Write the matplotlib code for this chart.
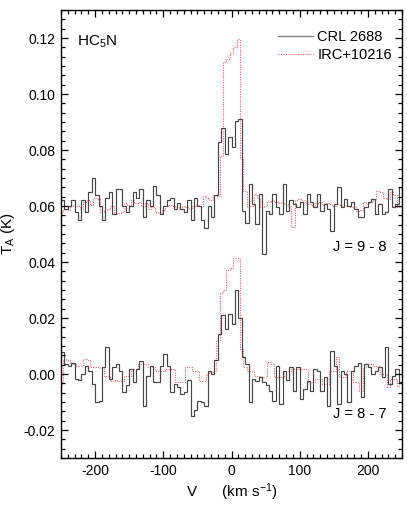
import numpy as np
import matplotlib
matplotlib.use("Agg")
import matplotlib.pyplot as plt
from matplotlib.ticker import AutoMinorLocator

plt.rcParams['font.family'] = ['Liberation Sans', 'DejaVu Sans']
plt.rcParams['mathtext.fontset'] = 'custom'
plt.rcParams['mathtext.rm'] = 'Liberation Sans'
plt.rcParams['mathtext.it'] = 'Liberation Sans'

# ---------------- data ----------------
v_start = -250.0          # km/s, left edge of first CRL 2688 channel
v_start_irc = -252.5      # km/s, left edge of first IRC+10216 channel
chan_width = 5.0          # km/s

# J = 9 - 8 (displayed with +0.06 K offset)
crl_98 = [0.062, 0.059, 0.060, 0.062, 0.058, 0.055, 0.062, 0.058, 0.065, 0.070,
          0.064, 0.060, 0.055, 0.063, 0.065, 0.057, 0.066, 0.066, 0.060, 0.058,
          0.060, 0.065, 0.063, 0.066, 0.056, 0.062, 0.060, 0.067, 0.064, 0.057,
          0.060, 0.062, 0.063, 0.059, 0.061, 0.059, 0.058, 0.062, 0.055, 0.063,
          0.060, 0.055, 0.052, 0.060, 0.056, 0.064, 0.0827, 0.088, 0.0786, 0.0845,
          0.081, 0.0905, 0.091, 0.0583, 0.054, 0.068, 0.0607, 0.0536, 0.0643, 0.043,
          0.0583, 0.057, 0.0643, 0.0595, 0.057, 0.068, 0.0583, 0.062, 0.0607, 0.0595,
          0.0613, 0.057, 0.0643, 0.0613, 0.0595, 0.0643, 0.0583, 0.0607, 0.059, 0.0512,
          0.0607, 0.0667, 0.0595, 0.0625, 0.0601, 0.0613, 0.059, 0.056, 0.056, 0.0595,
          0.0613, 0.0625, 0.057, 0.0607, 0.057, 0.0577, 0.066, 0.0595, 0.0607, 0.0667]

irc_98 = [0.058, 0.059, 0.0585, 0.060, 0.0605, 0.060, 0.059, 0.0615, 0.062, 0.0605,
          0.063, 0.0625, 0.058, 0.0585, 0.059, 0.060, 0.057, 0.0575, 0.058, 0.061,
          0.0605, 0.062, 0.061, 0.0615, 0.060, 0.061, 0.059, 0.0595, 0.058, 0.0575,
          0.0585, 0.060, 0.0605, 0.060, 0.0595, 0.059, 0.060, 0.0595, 0.059, 0.060,
          0.0605, 0.060, 0.0635, 0.063, 0.062, 0.064, 0.0635, 0.078, 0.1115, 0.1125,
          0.1145, 0.1167, 0.1195, 0.077, 0.0655, 0.0595, 0.060, 0.0643, 0.063, 0.0595,
          0.060, 0.0613, 0.062, 0.0613, 0.061, 0.0613, 0.0607, 0.060, 0.0524, 0.062,
          0.0625, 0.062, 0.0615, 0.0607, 0.060, 0.061, 0.0613, 0.0605, 0.061, 0.0607,
          0.060, 0.0607, 0.0605, 0.060, 0.0601, 0.0595, 0.060, 0.0583, 0.0585, 0.0613,
          0.061, 0.0613, 0.062, 0.0655, 0.065, 0.063, 0.0625, 0.0649, 0.064, 0.0595]

# J = 8 - 7
crl_87 = [0.008, 0.0036, 0.003, 0.004, -0.0018, -0.002, 0.000, 0.003, 0.001, -0.0036,
          -0.010, -0.0095, 0.0024, 0.0095, -0.0018, 0.0024, 0.0036, 0.001, -0.0065, -0.004,
          0.0018, -0.003, 0.0018, 0.0048, -0.0113, -0.0006, 0.003, -0.003, -0.003, 0.003,
          0.0071, 0.003, -0.0065, -0.0036, -0.0048, -0.007, -0.0065, -0.002, -0.0149, -0.013,
          -0.0095, -0.010, -0.0113, 0.001, 0.000, 0.005, 0.0143, 0.021, 0.016, 0.0214,
          0.018, 0.030, 0.020, 0.006, 0.0036, -0.010, -0.0018, -0.0024, -0.0012, -0.003,
          -0.004, -0.006, -0.0095, 0.003, -0.0107, 0.001, -0.002, 0.0024, -0.006, 0.0024,
          -0.009, -0.0054, -0.0024, -0.006, 0.0018, 0.0012, -0.006, -0.0012, -0.0113, 0.0083,
          0.003, -0.0107, 0.0012, 0.000, -0.010, 0.0012, 0.003, 0.004, -0.0083, 0.0036,
          0.0024, 0.000, 0.0012, 0.0024, -0.0012, 0.0095, -0.0036, -0.0006, 0.0018, -0.003]

irc_87 = [-0.0036, 0.0054, 0.005, 0.0036, 0.0036, 0.003, 0.0028, 0.0054, 0.005, 0.0024,
          0.0024, 0.0024, 0.002, -0.0006, -0.0006, -0.0024, -0.002, -0.0024, -0.0024, -0.0006,
          -0.0006, 0.0018, 0.0018, 0.0036, 0.0036, 0.0036, 0.0024, 0.0024, 0.0012, 0.0012,
          0.0012, 0.0018, 0.0018, 0.0018, -0.003, -0.003, -0.003, 0.0024, 0.0024, 0.0012,
          0.0012, -0.0024, -0.0024, 0.000, 0.0006, 0.001, 0.012, 0.029, 0.030, 0.037,
          0.038, 0.0415, 0.0415, 0.009, 0.0024, 0.0012, 0.0012, -0.0006, -0.0006, -0.0012,
          -0.0012, 0.0042, 0.0036, -0.0012, -0.0012, -0.0012, 0.0012, 0.0012, 0.0018, 0.0018,
          0.0018, 0.0018, 0.0018, -0.003, -0.003, -0.0018, -0.0018, -0.0036, -0.0036, 0.0012,
          0.0012, 0.006, -0.0012, -0.0012, 0.0012, 0.0012, -0.003, -0.003, -0.006, 0.0024,
          0.0036, 0.0036, 0.003, 0.003, 0.000, 0.000, -0.0048, -0.0018, -0.0018, -0.0042]

x_ticks = [-200, -100, 0, 100, 200]
y_ticks = [-0.02, 0.00, 0.02, 0.04, 0.06, 0.08, 0.10, 0.12]

# ---------------- plot ----------------
fig = plt.figure(figsize=(4.07, 5.09), dpi=100)
ax = fig.add_axes([61/407, 1-458/509, (402-61)/407, (458-10)/509])

edges_crl = v_start + chan_width*np.arange(len(crl_98)+1)
edges_irc = v_start_irc + chan_width*np.arange(len(irc_98)+1)

black = '#454545'
red = '#ff6060'
dots = (0, (1, 1.2))

ax.stairs(irc_98, edges_irc, baseline=None, color=red, lw=0.8, ls=dots)
ax.stairs(irc_87, edges_irc, baseline=None, color=red, lw=0.8, ls=dots)
ax.stairs(crl_98, edges_crl, baseline=None, color=black, lw=0.85)
ax.stairs(crl_87, edges_crl, baseline=None, color=black, lw=0.85)

ax.plot([], [], color='#808080', lw=1.0, label='CRL 2688')
ax.plot([], [], color=red, lw=0.8, ls=dots, label='IRC+10216')

ax.set_xlim(-250, 250)
ax.set_ylim(-0.03, 0.13)
ax.set_xticks(x_ticks)
ax.set_yticks(y_ticks)
ax.set_xticklabels([f'{t:d}' for t in x_ticks])
ax.set_yticklabels([f'{t:.2f}' for t in y_ticks])
ax.xaxis.set_minor_locator(AutoMinorLocator(10))
ax.yaxis.set_minor_locator(AutoMinorLocator(6))
ax.tick_params(which='both', direction='in', top=True, right=True, labelsize=10, width=0.9)
ax.tick_params(which='major', length=5, pad=4)
ax.tick_params(which='minor', length=3)
for s in ax.spines.values():
    s.set_linewidth(1.0)

ax.set_xlabel(r'V      (km s$^{-1}$)', fontsize=11, labelpad=3)
ax.set_ylabel(r'T$_{\rm A}$ (K)', fontsize=11)
ax.yaxis.set_label_coords(-0.13, 0.5)

ax.text(0.047, 0.948, r'HC$_5$N', transform=ax.transAxes, fontsize=11, va='top', ha='left')
ax.text(0.955, 0.472, 'J = 9 - 8', transform=ax.transAxes, fontsize=10.5, ha='right', va='center')
ax.text(0.955, 0.098, 'J = 8 - 7', transform=ax.transAxes, fontsize=10.5, ha='right', va='center')

ax.legend(loc='upper right', bbox_to_anchor=(1.0, 0.978), frameon=False, fontsize=10.5,
          handlelength=2.4, handletextpad=0.3, labelspacing=0.25, borderaxespad=0.3)

fig.savefig('out.png', dpi=100)
